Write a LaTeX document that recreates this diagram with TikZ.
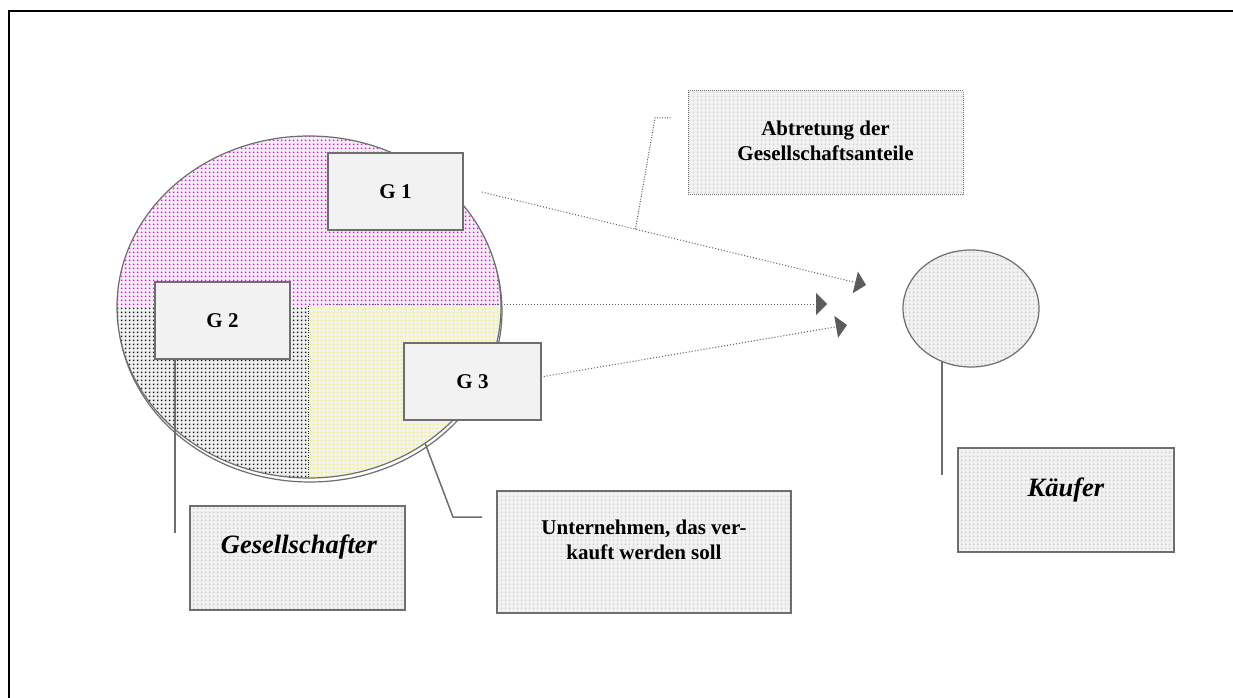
\documentclass[tikz,border=0pt]{standalone}
\usepackage{fontspec}
\setmainfont{Liberation Serif}
\usetikzlibrary{shapes.geometric,arrows.meta,patterns,calc}

\definecolor{linegray}{HTML}{6E6E6E}
\definecolor{boxfill}{HTML}{F2F2F2}
\definecolor{dotgray}{HTML}{CDCDCD}
\definecolor{tipgray}{HTML}{5C5C5C}
\definecolor{dotmag}{HTML}{FF00FF}
\definecolor{dotyel}{HTML}{FFFF00}
\definecolor{dotdark}{HTML}{1E1E1E}

% square dot screens
\pgfdeclarepatternformonly{bigdots}{\pgfqpoint{0pt}{0pt}}{\pgfqpoint{4pt}{4pt}}{\pgfqpoint{4pt}{4pt}}%
  {\pgfpathrectangle{\pgfqpoint{1pt}{1pt}}{\pgfqpoint{2pt}{2pt}}\pgfusepath{fill}}
\pgfdeclarepatternformonly{smalldots}{\pgfqpoint{0pt}{0pt}}{\pgfqpoint{4pt}{4pt}}{\pgfqpoint{4pt}{4pt}}%
  {\pgfpathrectangle{\pgfqpoint{1.2pt}{1.2pt}}{\pgfqpoint{1.6pt}{1.6pt}}\pgfusepath{fill}}

\tikzset{
  dotted fill/.style={preaction={fill=boxfill}, pattern=bigdots, pattern color=#1},
  light dots/.style={preaction={fill=boxfill}, pattern=smalldots, pattern color=dotgray},
  gbox/.style={draw=linegray, line width=1.5pt, fill=boxfill, minimum width=135pt,
    minimum height=77pt, inner sep=0pt, font=\bfseries\fontsize{21}{25}\selectfont},
  infobox/.style={draw=linegray, line width=1.5pt, light dots, inner sep=0pt},
  lbl/.style={font=\bfseries\fontsize{21}{25}\selectfont, align=center},
  ilbl/.style={font=\bfseries\itshape\fontsize{26.5}{30}\selectfont},
  conn/.style={draw=linegray, line width=1.5pt},
  flow/.style={draw=tipgray, line width=1pt, dash pattern=on 1pt off 2pt,
    -{Triangle[length=11pt,width=22pt]}},
  bigell/.style={ellipse, draw=linegray, line width=1.2pt, minimum width=384pt,
    minimum height=342pt, inner sep=0pt},
}

\begin{document}
\begin{tikzpicture}[x=1pt,y=-1pt]
\useasboundingbox (0,0) rectangle (1233,698);
\fill[white] (0,0) rectangle (1233,698);

% page frame (top and left rules)
\draw[line width=2.5pt] (9,698) -- (9,11) -- (1233,11);

% company ellipse with its shadow and three shareholder areas
\node[bigell, fill=white] (firmshadow) at (310,311) {};
\begin{scope}
  \clip (309,307) ellipse [x radius=192, y radius=171];
  \fill[dotted fill=dotmag] (110,130) rectangle (510,306);
  \fill[dotted fill=dotdark] (110,306) rectangle (308,485);
  \fill[dotted fill=dotyel] (308,306) rectangle (510,485);
  \draw[dotdark, line width=0.8pt, dash pattern=on 0.8pt off 1.6pt] (308,306) -- (308,485);
\end{scope}
\node[bigell] (firm) at (309,307) {};

% shareholders
\node[gbox] (g1) at (395.5,191.5) {G 1};
\node[gbox] (g2) at (222.5,320.5) {G 2};
\node[gbox, minimum width=137pt] (g3) at (472.5,381.5) {G 3};

% buyer
\node[ellipse, draw=linegray, line width=1.2pt, light dots, minimum width=136pt,
  minimum height=117pt, inner sep=0pt] (kauf) at (971,308.5) {};

% caption boxes
\node[infobox, line width=1pt, dash pattern=on 1pt off 1pt, minimum width=275pt,
  minimum height=103pt] (abtr) at (825.5,142.5) {};
\node[lbl] (abtrtext) at ($(abtr.center)+(0,-2)$) {Abtretung der\\Gesellschaftsanteile};

\node[infobox, minimum width=215pt, minimum height=104pt] (ges) at (297.5,558) {};
\node[ilbl] (gestext) at ($(ges.center)+(1.5,-11)$) {Gesellschafter};

\node[infobox, minimum width=294pt, minimum height=122pt] (unt) at (644,552) {};
\node[lbl] (unttext) at ($(unt.center)+(0,-12)$) {Unternehmen, das ver-\\kauft werden soll};

\node[infobox, minimum width=216pt, minimum height=104pt] (kbox) at (1066,500) {};
\node[ilbl] (kboxtext) at ($(kbox.center)+(0,-10)$) {Käufer};

% transfer arrows
\coordinate (s1) at ($(g1.east)+(18,0.5)$);
\coordinate (s2) at (327,304);
\coordinate (s3) at ($(g3.east)+(2,-5)$);
\coordinate (t1) at (866,285);
\coordinate (t2) at (827,304);
\coordinate (t3) at (847,325);
\draw[flow] (s1) -- (t1);
\draw[flow] (s2) -- (t2);
\draw[flow] (s3) -- (t3);

% callout lines
\coordinate (abtrend) at (671,118);
\draw[tipgray, line width=1pt, dash pattern=on 1pt off 1.5pt]
  ($(s1)!0.4!(t1)$) -- (655,118) -- (abtrend);

\coordinate (gesend) at (175,533);
\draw[conn] (g2.south -| gesend) -- (gesend);

\coordinate (firmpt) at (425,443);
\coordinate (untend) at (482,517);
\draw[conn] (firmpt) -- (453,517) -- (untend);

\coordinate (kaufpt) at (942,361);
\coordinate (kaufend) at (942,475);
\draw[conn] (kaufpt) -- (kaufend);
\end{tikzpicture}
\end{document}
